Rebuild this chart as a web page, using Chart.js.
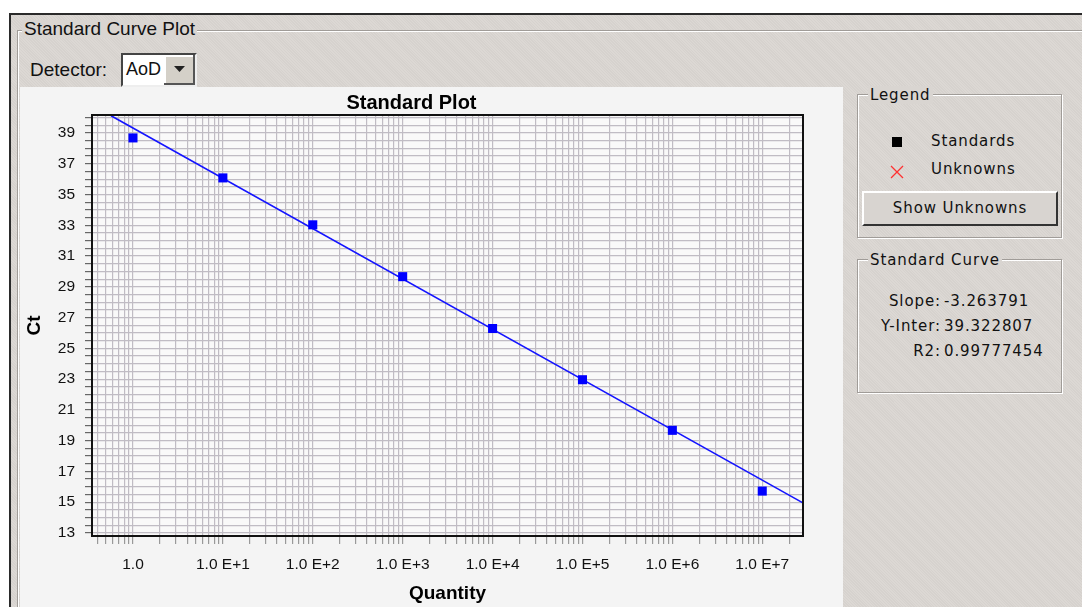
<!DOCTYPE html>
<html>
<head>
<meta charset="utf-8">
<script src="https://cdn.jsdelivr.net/npm/chart.js@4.4.1/dist/chart.umd.min.js"></script>
<style>
  body { margin: 0; width: 1082px; height: 607px; overflow: hidden; background: #fff; position: relative; }
  #frame {
    position: absolute; left: 9px; top: 13px; width: 1080px; height: 600px;
    border-left: 2px solid #2a2a2a; border-top: 2px solid #2a2a2a;
    background: repeating-linear-gradient(45deg, #d6d2ce 0px, #d6d2ce 1px, #dcd8d4 1px, #dcd8d4 2px);
  }
  .groove { position: absolute; border: 1px solid #a09c98; box-shadow: inset 1px 1px 0 #fff, 1px 1px 0 #fff; }
  .glabel { position: absolute; background: #d9d5d1; padding: 0 2px; line-height: 18px; }
  .side { font-family: "DejaVu Sans", sans-serif; font-size: 15px; letter-spacing: 0.9px; color: #111; }
  .abs { position: absolute; }
  #panel { position: absolute; left: 20px; top: 87px; width: 823px; height: 520px; background: #f4f4f4; }
  #combo { position: absolute; left: 121px; top: 53px; width: 72px; height: 30px; background: #fff;
    border-top: 2px solid #444; border-left: 2px solid #444; border-right: 2px solid #eee; border-bottom: 2px solid #eee; }
  #combobtn { position: absolute; right: 0; top: 0; width: 31px; height: 30px; background: #d4d0c8;
    box-shadow: inset -2px -2px 0 #555, inset 2px 2px 0 #fff; }
  .btn { position: absolute; background: #d8d4d0; border-top: 2px solid #fff; border-left: 2px solid #fff;
    border-right: 2px solid #333; border-bottom: 2px solid #333; box-sizing: border-box; text-align: center; }
</style>
</head>
<body>
<div id="frame"></div>

<div class="groove" style="left:17px; top:30px; width:1100px; height:620px;"></div>
<div class="glabel abs" style="left:22px; top:20px; font-family:'Liberation Sans',Arial,sans-serif; font-size:19px; color:#111;">Standard Curve Plot</div>

<div class="abs" style="left:30px; top:59px; font-family:'Liberation Sans',Arial,sans-serif; font-size:19px; color:#111; line-height:22px;">Detector:</div>
<div id="combo">
  <div class="abs" style="left:3px; top:3px; font-family:'Liberation Sans',Arial,sans-serif; font-size:18px; line-height:22px; color:#111;">AoD</div>
  <div id="combobtn">
    <svg width="31" height="30" style="position:absolute;left:0;top:0"><polygon points="10,11 21,11 15.5,17" fill="#222"/></svg>
  </div>
</div>

<div id="panel"><canvas id="chart" width="823" height="520"></canvas></div>

<!-- legend box -->
<div class="groove" style="left:857px; top:94px; width:203px; height:142px;"></div>
<div class="glabel side abs" style="left:868px; top:86px;">Legend</div>
<div class="abs" style="left:892px; top:137px; width:10px; height:10px; background:#000;"></div>
<div class="side abs" style="left:931px; top:132px;">Standards</div>
<svg class="abs" style="left:889px; top:164px;" width="16" height="16"><path d="M2 2 L14 14 M14 2 L2 14" stroke="#ff3030" stroke-width="1.3"/></svg>
<div class="side abs" style="left:931px; top:160px;">Unknowns</div>
<div class="btn side" style="left:862px; top:191px; width:196px; height:35px; line-height:31px;">Show Unknowns</div>

<!-- standard curve box -->
<div class="groove" style="left:857px; top:259px; width:203px; height:132px;"></div>
<div class="glabel side abs" style="left:868px; top:251px;">Standard Curve</div>
<div class="side abs" style="left:860px; top:292px; width:81px; text-align:right;">Slope:</div>
<div class="side abs" style="left:944px; top:292px;">-3.263791</div>
<div class="side abs" style="left:860px; top:317px; width:81px; text-align:right;">Y-Inter:</div>
<div class="side abs" style="left:944px; top:317px;">39.322807</div>
<div class="side abs" style="left:860px; top:342px; width:81px; text-align:right;">R2:</div>
<div class="side abs" style="left:944px; top:342px;">0.99777454</div>

<script>
// standards (quantity vs Ct)
const quantities = [1, 10, 100, 1000, 10000, 100000, 1000000, 10000000];
const ctValues = [38.68, 36.08, 33.03, 29.66, 26.29, 22.96, 19.67, 15.72];

// fitted line, read at the plot edges
const lineQty = [0.57, 2.8e7];
const lineCt = [40.12, 14.97];

const xTickValues = [1, 10, 100, 1000, 10000, 100000, 1000000, 10000000];
const xTickLabels = ['1.0', '1.0 E+1', '1.0 E+2', '1.0 E+3', '1.0 E+4', '1.0 E+5', '1.0 E+6', '1.0 E+7'];
const yTickLabels = [13, 15, 17, 19, 21, 23, 25, 27, 29, 31, 33, 35, 37, 39];

const xMin = 0.35, xMax = 2.84e7;
const yMin = 12.8, yMax = 40.17;

const gridColor = '#c0bcc4';

const plotFrame = {
    id: 'plotFrame',
    beforeDraw(chart) {
        const a = chart.chartArea, c = chart.ctx;
        c.save();
        c.fillStyle = '#f9f9f9';
        c.fillRect(a.left, a.top, a.right - a.left, a.bottom - a.top);
        c.restore();
    },
    afterDatasetsDraw(chart) {
        const a = chart.chartArea, c = chart.ctx;
        c.save();
        c.strokeStyle = '#111';
        c.lineWidth = 2;
        c.strokeRect(a.left, a.top, a.right - a.left, a.bottom - a.top);
        c.restore();
    }
};

new Chart(document.getElementById('chart'), {
    type: 'scatter',
    data: {
        datasets: [
            {
                label: 'Standards',
                data: quantities.map((q, i) => ({ x: q, y: ctValues[i] })),
                pointStyle: 'rect',
                pointRadius: 6.4,
                pointHoverRadius: 6.4,
                backgroundColor: '#0000ff',
                borderColor: '#0000ff',
                borderWidth: 0
            },
            {
                label: 'Fit',
                type: 'line',
                data: lineQty.map((q, i) => ({ x: q, y: lineCt[i] })),
                borderColor: '#1414ff',
                borderWidth: 1.6,
                pointRadius: 0,
                fill: false
            }
        ]
    },
    options: {
        responsive: false,
        animation: false,
        layout: { padding: { top: 0, right: 40, bottom: 0, left: 0 } },
        plugins: {
            legend: { display: false },
            tooltip: { enabled: false },
            title: {
                display: true,
                text: 'Standard Plot',
                color: '#000',
                font: { family: "'Liberation Sans', Arial, sans-serif", size: 20, weight: 'bold' },
                padding: { top: 4, bottom: 0 }
            }
        },
        scales: {
            x: {
                type: 'logarithmic',
                min: xMin,
                max: xMax,
                afterBuildTicks(scale) {
                    const t = [];
                    for (let e = -1; e <= 7; e++) {
                        for (let m = 1; m <= 9; m++) {
                            const v = m * Math.pow(10, e);
                            if (v >= xMin && v <= xMax) t.push({ value: v });
                        }
                    }
                    scale.ticks = t;
                },
                afterFit(scale) { scale.height = 71; },
                ticks: {
                    autoSkip: false,
                    maxRotation: 0,
                    padding: 11,
                    color: '#111',
                    font: { family: "'Liberation Sans', Arial, sans-serif", size: 15.5 },
                    callback(v) {
                        const i = xTickValues.findIndex(t => Math.abs(t - v) / t < 1e-6);
                        return i >= 0 ? xTickLabels[i] : '';
                    }
                },
                grid: { color: gridColor, lineWidth: 1.2, tickLength: 8, tickColor: '#999' },
                border: { display: false },
                title: {
                    display: true,
                    text: 'Quantity',
                    color: '#000',
                    font: { family: "'Liberation Sans', Arial, sans-serif", size: 19, weight: 'bold' },
                    padding: { top: 0, bottom: 2 }
                }
            },
            y: {
                min: yMin,
                max: yMax,
                afterBuildTicks(scale) {
                    const t = [];
                    for (let v = 13; v <= 40; v += 0.5) t.push({ value: v });
                    scale.ticks = t;
                },
                afterFit(scale) { scale.width = 72; },
                ticks: {
                    autoSkip: false,
                    padding: 10,
                    color: '#111',
                    font: { family: "'Liberation Sans', Arial, sans-serif", size: 15.5 },
                    callback(v) { return yTickLabels.includes(v) ? String(v) : ''; }
                },
                grid: { color: gridColor, lineWidth: 1.2, tickLength: 7, tickColor: '#666' },
                border: { display: false },
                title: {
                    display: true,
                    text: 'Ct',
                    color: '#000',
                    font: { family: "'Liberation Sans', Arial, sans-serif", size: 19, weight: 'bold' },
                    padding: { top: 3, bottom: 0 }
                }
            }
        }
    },
    plugins: [plotFrame]
});
</script>
</body>
</html>
